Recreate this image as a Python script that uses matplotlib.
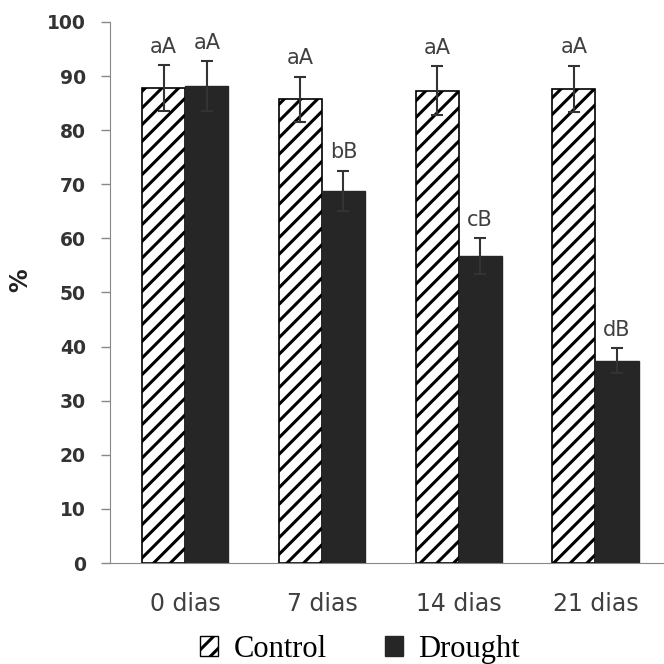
import matplotlib
matplotlib.use("Agg")
import matplotlib.pyplot as plt
import numpy as np
from matplotlib.patches import Patch

categories = ["0 dias", "7 dias", "14 dias", "21 dias"]
control = [87.8, 85.7, 87.3, 87.6]
control_err = [4.2, 4.2, 4.5, 4.3]
drought = [88.2, 68.8, 56.8, 37.4]
drought_err = [4.6, 3.7, 3.3, 2.3]
control_labels = ["aA", "aA", "aA", "aA"]
drought_labels = ["aA", "bB", "cB", "dB"]

plt.rcParams['hatch.linewidth'] = 2.2
plt.rcParams['hatch.color'] = 'black'

fig = plt.figure(figsize=(6.64, 6.64), dpi=100)
ax = fig.add_axes([0.1657, 0.152, 0.834, 0.815])

x = np.arange(len(categories))
w = 0.315
ax.bar(x - w/2, control, w, color='white', edgecolor='black', hatch='//', linewidth=1.2)
ax.bar(x + w/2, drought, w, color='#262626', edgecolor='#262626', linewidth=1.0)
ax.errorbar(x - w/2, control, yerr=control_err, fmt='none', ecolor='#333333', elinewidth=1.5, capsize=4, capthick=1.5)
ax.errorbar(x + w/2, drought, yerr=drought_err, fmt='none', ecolor='#333333', elinewidth=1.5, capsize=4, capthick=1.5)

for xi, v, e, t in zip(x - w/2, control, control_err, control_labels):
    ax.annotate(t, (xi, v + e), xytext=(0, 6), textcoords='offset points', ha='center', va='bottom',
                fontsize=15, color='#404040')
for xi, v, e, t in zip(x + w/2, drought, drought_err, drought_labels):
    ax.annotate(t, (xi, v + e), xytext=(0, 6), textcoords='offset points', ha='center', va='bottom',
                fontsize=15, color='#404040')

ax.set_xlim(-0.55, 3.5)
ax.set_ylim(0, 100)
ax.set_yticks(range(0, 101, 10))
ax.set_xticks(x)
ax.set_xticklabels(categories, fontsize=17, color='#404040')
for lab in ax.get_yticklabels():
    lab.set_fontweight('bold')
    lab.set_fontsize(13.5)
    lab.set_color('#333333')
ax.tick_params(axis='x', length=0, pad=21)
ax.tick_params(axis='y', length=6.5, width=1, color='#888888', pad=11)
for s in ['top', 'right']:
    ax.spines[s].set_visible(False)
ax.spines['left'].set_color('#888888')
ax.spines['bottom'].set_color('#888888')
ax.set_ylabel('%', fontsize=17, fontweight='bold', color='#222222')
ax.yaxis.set_label_coords(-0.14, 0.523)

handles = [Patch(facecolor='white', edgecolor='black', hatch='//', linewidth=1.0),
           Patch(facecolor='#262626', edgecolor='#262626')]
fig.legend(handles, ['Control', 'Drought'], loc='center', bbox_to_anchor=(0.542, 0.022),
           ncol=2, frameon=False, prop={'family': 'Liberation Serif', 'size': 22},
           handlelength=0.6, handleheight=0.6, handletextpad=0.5, columnspacing=1.9,
           borderpad=0, borderaxespad=0)

fig.savefig('out.png', dpi=100)
